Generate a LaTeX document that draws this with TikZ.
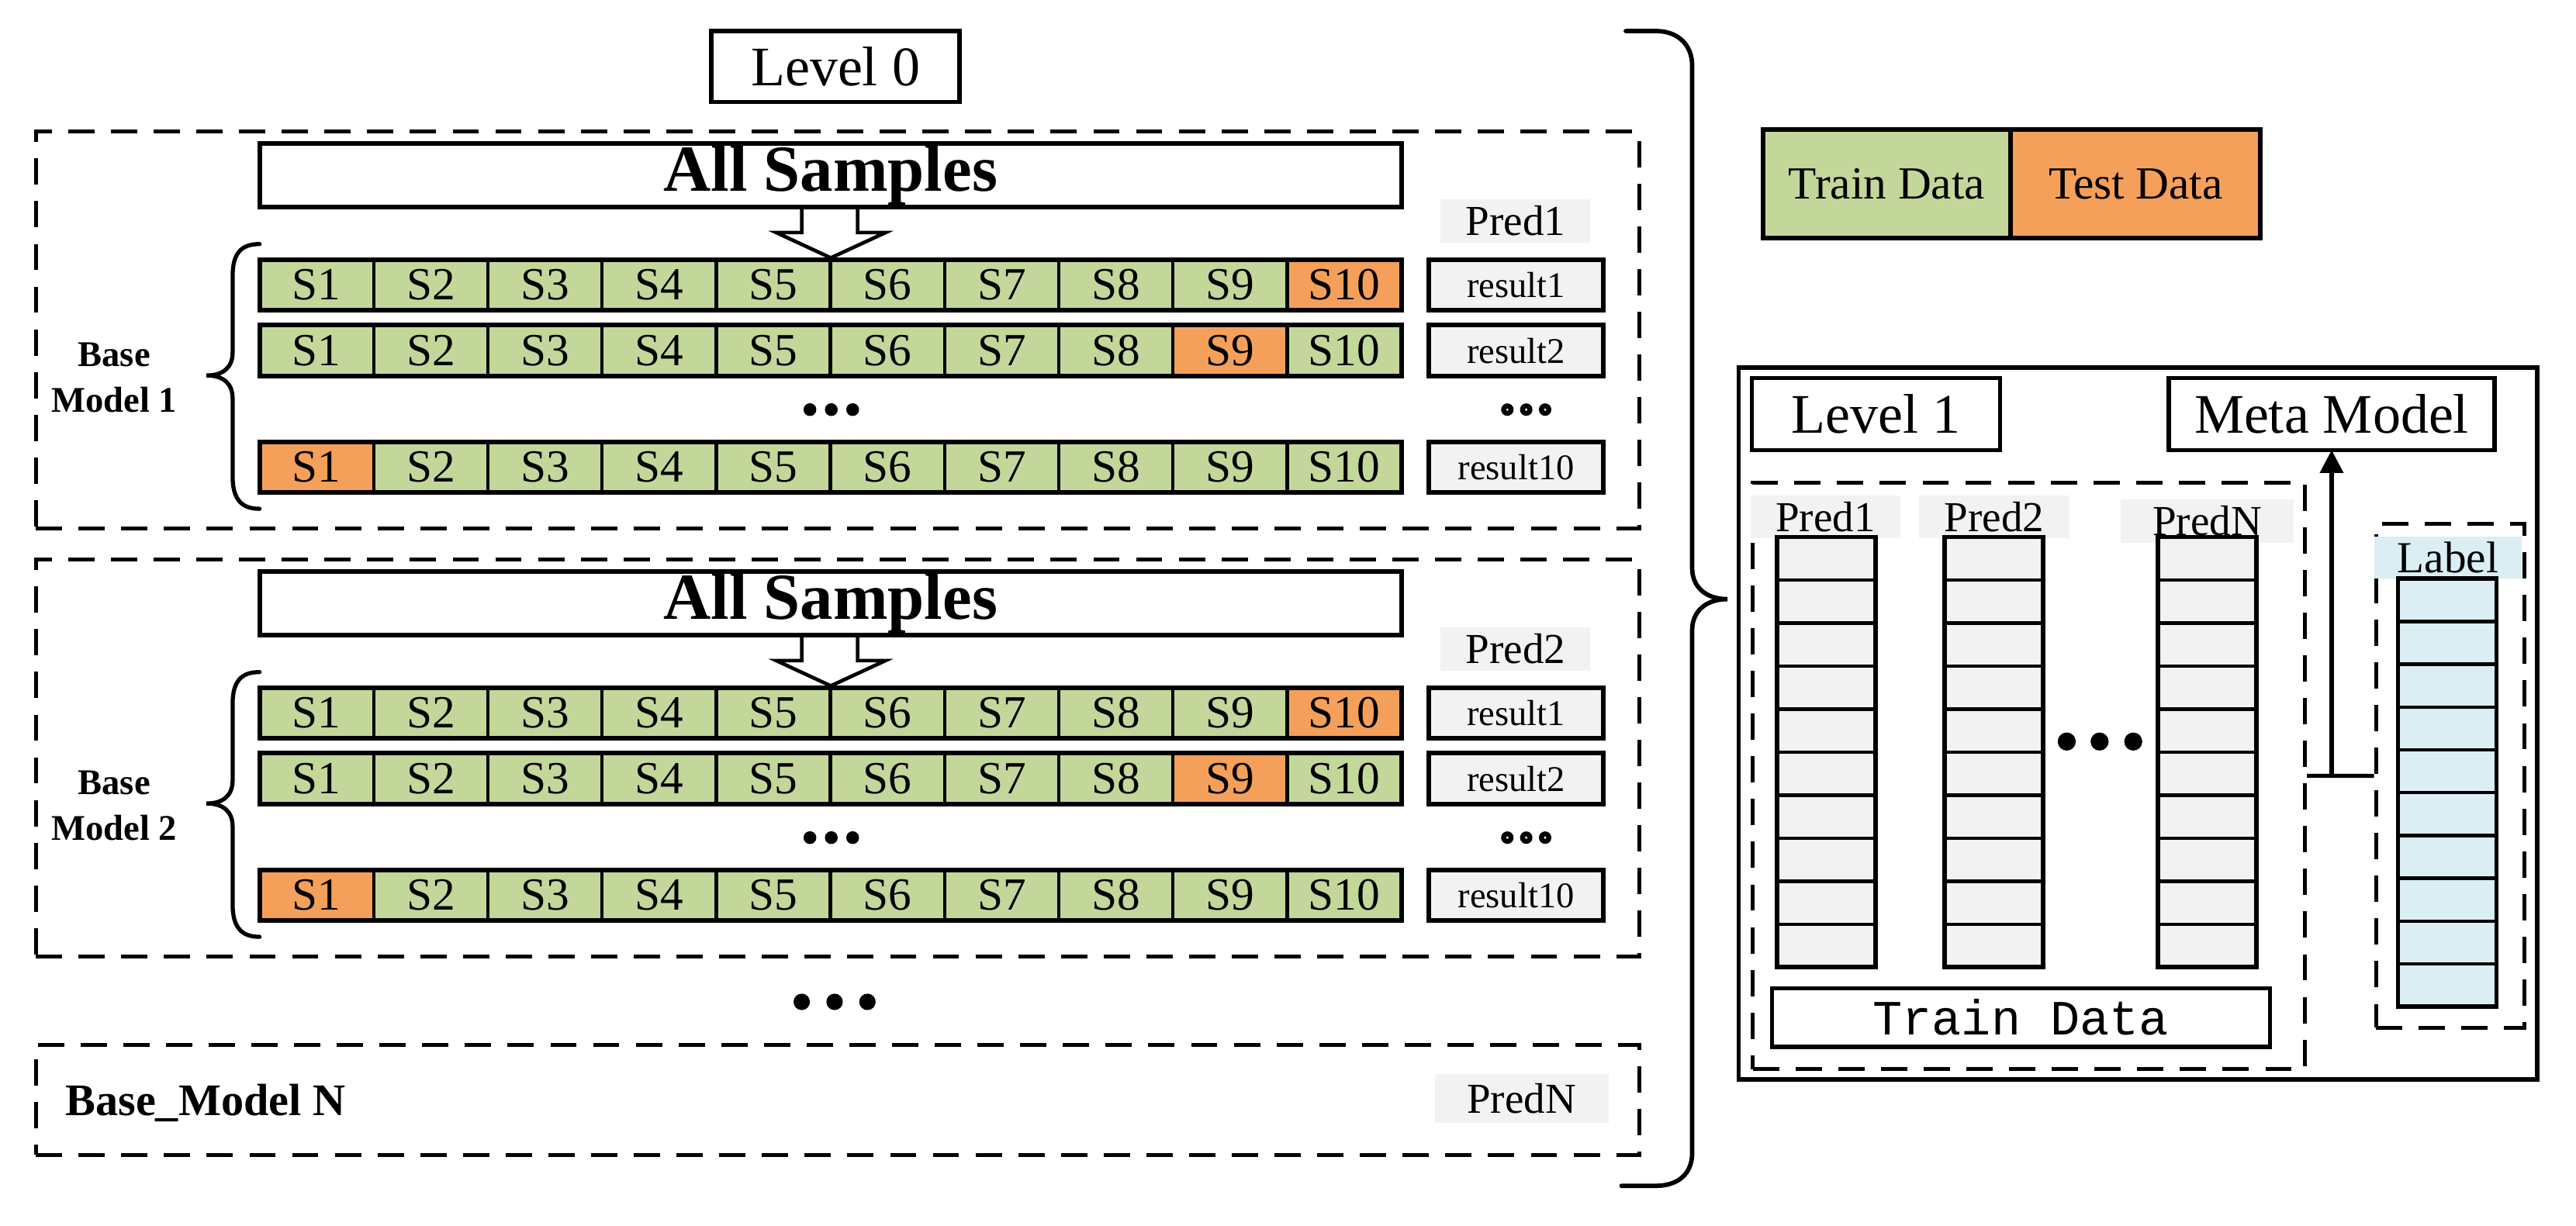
\documentclass[tikz,border=0pt]{standalone}
\usepackage{fontspec}
\setmainfont{Liberation Serif}
\newfontfamily\tdmono{Liberation Mono}
\usetikzlibrary{arrows.meta}
\definecolor{traingreen}{HTML}{C4D79B}
\definecolor{testorange}{HTML}{F4A05A}
\definecolor{lightgray}{HTML}{F2F2F2}
\definecolor{lightblue}{HTML}{DAEEF3}
\newcommand\fs[1]{\fontsize{#1}{#1}\selectfont}

\newcommand\samplerow[3]{% #1 name, #2 y top, #3 test index
  \foreach \i in {1,...,10}{%
    \ifnum\i=#3\relax\def\cellcol{testorange}\else\def\cellcol{traingreen}\fi
    \node[scell, fill=\cellcol] (#1-\i) at ({158+(\i-1)*69.5},#2) {S\i};
  }
  \draw[rowframe] (#1-1.north west) rectangle (#1-10.south east);
}

\newcommand\basemodel[4]{% #1 prefix, #2 y offset, #3 number, #4 pred label
  \node[dashbox, minimum width=976.1pt, minimum height=241.5pt, anchor=north west] (#1box) at (20.6,79+#2) {};
  \draw[blockarrow] (488,126+#2) -- (488,141.6+#2) -- (472.5,141.6+#2) -- (505.7,157+#2) -- (539,141.6+#2) -- (522,141.6+#2) -- (522,126+#2);
  \node[solidbox, line width=2.8pt, minimum width=695pt, minimum height=38.5pt, anchor=north west, font=\bfseries\fs{40}] (#1all) at (158,87.5+#2) {All Samples};
  \node[predlbl, minimum width=91pt, minimum height=26.5pt, anchor=north west] (#1pred) at (877,121.3+#2) {#4};
  \samplerow{#1ra}{158+#2}{10}
  \samplerow{#1rb}{198+#2}{9}
  \samplerow{#1rc}{269+#2}{1}
  \node[resbox] (#1res1) at (869.7,158+#2) {result1};
  \node[resbox] (#1res2) at (869.7,198+#2) {result2};
  \node[resbox] (#1res10) at (869.7,269+#2) {result10};
  \fill (493,249.4+#2) circle (3.9pt);
  \fill (506,249.4+#2) circle (3.9pt);
  \fill (519,249.4+#2) circle (3.9pt);
  \foreach \dx in {917.5,929,940.5}{%
    \fill (\dx,249.4+#2) circle (3.8pt);
    \fill[white] (\dx,249.4+#2) circle (0.8pt);
  }
  \draw[bracestyle] (158,148.6+#2) .. controls (147,148.6+#2) and (141.6,154+#2) .. (141.6,168+#2)
    -- (141.6,214.6+#2) .. controls (141.6,223.6+#2) and (136,228.6+#2) .. (125.7,228.6+#2)
    .. controls (136,228.6+#2) and (141.6,233.6+#2) .. (141.6,242.6+#2)
    -- (141.6,290+#2) .. controls (141.6,304+#2) and (147,309.8+#2) .. (158,309.8+#2);
  \node[font=\bfseries\fontsize{22}{28}\selectfont, align=center] (#1name) at (69.5,230+#2) {Base\\Model #3};
}

\begin{document}
\begin{tikzpicture}[x=1pt,y=-1pt,
  scell/.style={draw, line width=2.1pt, minimum width=69.5pt, minimum height=31pt, inner sep=0pt, outer sep=0pt, anchor=north west, font=\fs{28}},
  rowframe/.style={draw, line width=2.9pt},
  resbox/.style={draw, line width=2.9pt, fill=lightgray, minimum width=106.3pt, minimum height=31pt, inner sep=0pt, outer sep=0pt, anchor=north west, font=\fs{22}},
  predlbl/.style={fill=lightgray, inner sep=0pt, outer sep=0pt, font=\fs{26}},
  dashbox/.style={draw, line width=2.4pt, dash pattern=on 16pt off 10pt, inner sep=0pt},
  solidbox/.style={draw, line width=2.6pt, inner sep=0pt, outer sep=0pt},
  bracestyle/.style={draw, line width=2.5pt, line cap=round},
  blockarrow/.style={draw, line width=2.2pt, fill=white, line join=miter},
  pcell/.style={draw, line width=2.1pt, fill=lightgray, minimum width=60pt, minimum height=26.2pt, inner sep=0pt, outer sep=0pt, anchor=north west},
  lcell/.style={draw, line width=2.1pt, fill=lightblue, minimum width=60pt, minimum height=26.07pt, inner sep=0pt, outer sep=0pt, anchor=north west},
  link/.style={draw, line width=2.4pt}
]
\useasboundingbox (0,0) rectangle (1568,746);
\fill[white] (0,0) rectangle (1568,746);

% Level 0 title
\node[solidbox, minimum width=151pt, minimum height=43pt, anchor=north west, font=\fs{34}] (lvl0) at (433,19) {Level 0};

% base models
\basemodel{bma}{0}{1}{Pred1}
\basemodel{bmb}{260.6}{2}{Pred2}

% dots between models
\fill (488,610) circle (5pt);
\fill (508,610) circle (5pt);
\fill (528,610) circle (5pt);

% Base model N
\node[dashbox, minimum width=976.1pt, minimum height=67pt, anchor=north west] (bmNbox) at (20.6,635) {};
\node[font=\bfseries\fs{27.5}, anchor=base west, inner sep=0pt] (bmN) at (39.7,679) {Base\_Model N};
\node[predlbl, minimum width=105.6pt, minimum height=30pt, anchor=north west] (bmNpred) at (873.4,653.7) {PredN};

% big brace
\draw[bracestyle, line width=2.7pt] (989.6,18.9) -- (1008,18.9) .. controls (1021,18.9) and (1030,27) .. (1030,40)
  -- (1030,346) .. controls (1030,357) and (1038,364.8) .. (1051.5,364.8)
  .. controls (1038,364.8) and (1030,372.6) .. (1030,383.6)
  -- (1030,702) .. controls (1030,715) and (1021,722) .. (1008,722) -- (987,722);

% legend
\node[solidbox, line width=2.8pt, fill=traingreen, minimum width=151pt, minimum height=66.4pt, anchor=north west, font=\fs{28}] (legtrain) at (1073,78.7) {Train Data};
\node[solidbox, line width=2.8pt, fill=testorange, minimum width=152pt, minimum height=66.4pt, anchor=north west, font=\fs{28}] (legtest) at (legtrain.north east) {Test Data};

% Level 1 region
\node[solidbox, line width=2.8pt, minimum width=486.2pt, minimum height=433.4pt, anchor=north west] (l1outer) at (1058.3,223.8) {};
\node[solidbox, minimum width=151.1pt, minimum height=43.8pt, anchor=north west, font=\fs{34}] (lvl1) at (1066.4,230.2) {Level 1};
\node[solidbox, minimum width=198.5pt, minimum height=43.8pt, anchor=north west, font=\fs{34}] (meta) at (1320,230.2) {Meta Model};
\node[dashbox, minimum width=336.1pt, minimum height=357.1pt, anchor=north west] (l1data) at (1065.7,292.6) {};

\node[predlbl, minimum width=91pt, minimum height=26pt, anchor=north west] (p1lbl) at (1065.7,301.7) {Pred1};
\node[predlbl, minimum width=91.7pt, minimum height=26pt, anchor=north west] (p2lbl) at (1168,301.7) {Pred2};
\node[predlbl, minimum width=105pt, minimum height=26.6pt, anchor=north west] (pNlbl) at (1291,304) {PredN};

\foreach \c/\xx in {1/1081.6, 2/1183.7, N/1313.6}{%
  \foreach \k in {1,...,10}{%
    \node[pcell] (pc\c-\k) at (\xx,{326.9+(\k-1)*26.2}) {};
  }
  \draw[line width=2.7pt] (pc\c-1.north west) rectangle (pc\c-10.south east);
}
\fill (1258,451.5) circle (5.5pt);
\fill (1278,451.5) circle (5.5pt);
\fill (1298.5,451.5) circle (5.5pt);

\node[solidbox, line width=2.4pt, minimum width=303.2pt, minimum height=35.8pt, anchor=north west, font=\tdmono\fs{30}] (tdbox) at (1078.4,601.6) {Train Data};

\node[dashbox, minimum width=90.5pt, minimum height=306.8pt, anchor=north west] (lblbox) at (1445,317.8) {};
\node[fill=lightblue, minimum width=90pt, minimum height=25.1pt, anchor=north west, inner sep=0pt, outer sep=0pt, font=\fs{27}] (lbltxt) at (1445,326.9) {Label};
\foreach \k in {1,...,10}{%
  \node[lcell] (lc-\k) at (1459.6,{352.3+(\k-1)*26.07}) {};
}
\draw[line width=2.7pt] (lc-1.north west) rectangle (lc-10.south east);

% connectors
\coordinate (jn) at (meta.south |- l1data.east);
\draw[link] (l1data.east) -- (lblbox.west);
\draw[link, -{Triangle[length=14pt,width=14pt]}] (jn) -- (meta.south);
\end{tikzpicture}
\end{document}
